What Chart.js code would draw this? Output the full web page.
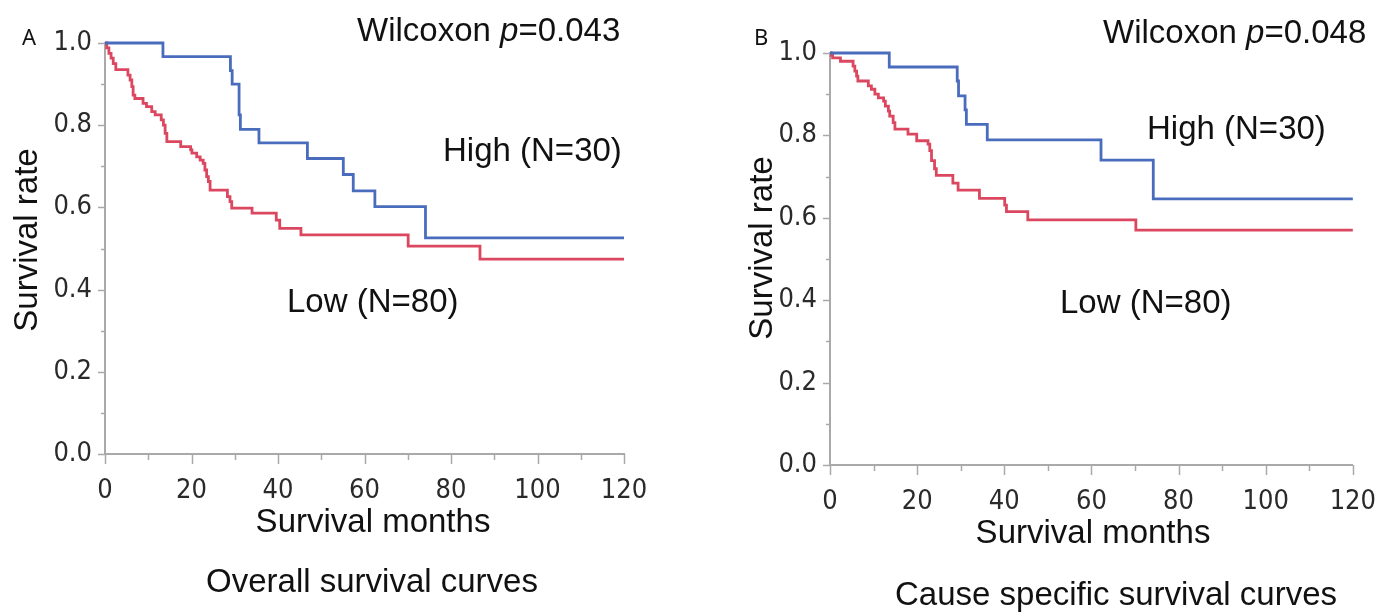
<!DOCTYPE html>
<html>
<head>
<meta charset="utf-8">
<script src="https://cdn.jsdelivr.net/npm/chart.js@4.4.1/dist/chart.umd.min.js"></script>
<style>
  html, body { margin: 0; padding: 0; background: #fff; }
  #wrap { position: relative; width: 1387px; height: 615px; }
  #wrap canvas { position: absolute; left: 0; top: 0; }
</style>
</head>
<body>
<div id="wrap">
  <canvas id="osChart" width="1387" height="615"></canvas>
  <canvas id="cssChart" width="1387" height="615"></canvas>
</div>
<script>
// ---- data (months, survival rate) ----
// A: overall survival
const osHighMonths = [0, 13.4, 29.0, 29.4, 31.0, 31.3, 35.6, 46.8, 55.1, 57.4, 62.4, 74.1, 120];
const osHighRate   = [1.0, 0.967, 0.933, 0.900, 0.825, 0.790, 0.757, 0.719, 0.680, 0.640, 0.602, 0.526, 0.526];
const osLowMonths = [0, 0.4, 0.9, 1.4, 1.9, 2.5, 5.3, 5.8, 6.2, 6.5, 6.9, 8.8, 9.6, 10.8, 11.6, 13.0, 13.5, 13.9, 14.3,
  17.5, 19.8, 20.1, 21.2, 22.0, 22.7, 23.1, 23.5, 23.9, 24.3, 28.3, 28.9, 29.3, 34.0, 39.6, 40.4, 45.3, 70.1, 86.7, 120];
const osLowRate = [1.0, 0.988, 0.975, 0.963, 0.950, 0.935, 0.922, 0.910, 0.894, 0.873, 0.865, 0.853, 0.845, 0.833, 0.825,
  0.813, 0.800, 0.780, 0.760, 0.748, 0.740, 0.732, 0.723, 0.715, 0.707, 0.691, 0.675, 0.663, 0.642, 0.626, 0.614, 0.598,
  0.586, 0.569, 0.549, 0.533, 0.506, 0.474, 0.474];

// B: cause specific survival
const cssHighMonths = [0, 13.6, 29.2, 29.5, 31.0, 31.3, 36.1, 62.2, 74.2, 120];
const cssHighRate   = [1.0, 0.966, 0.932, 0.896, 0.862, 0.827, 0.789, 0.740, 0.646, 0.646];
const cssLowMonths = [0, 0.3, 0.6, 2.4, 5.3, 5.7, 6.1, 6.4, 8.8, 9.5, 10.3, 11.1, 12.3, 12.7, 13.4, 13.7, 14.5, 14.9,
  17.9, 19.9, 22.5, 22.9, 23.3, 24.0, 24.4, 28.2, 29.4, 34.3, 40.1, 40.5, 45.4, 70.2, 120];
const cssLowRate = [1.0, 0.994, 0.988, 0.980, 0.968, 0.956, 0.944, 0.932, 0.920, 0.912, 0.900, 0.891, 0.883, 0.871,
  0.859, 0.847, 0.831, 0.815, 0.803, 0.787, 0.779, 0.763, 0.739, 0.719, 0.703, 0.684, 0.667, 0.647, 0.631, 0.615,
  0.595, 0.570, 0.570];

const xTicks = [0, 20, 40, 60, 80, 100, 120];
const yTicks = [0.0, 0.2, 0.4, 0.6, 0.8, 1.0];

const highLabel = 'High (N=30)';
const lowLabel = 'Low (N=80)';
const xTitle = 'Survival months';
const yTitle = 'Survival rate';

const blue = '#4a6cbd';
const red = '#dc4760';
const axisGray = '#a9a9a9';
const textFont = '"Liberation Sans", Arial, sans-serif';
const tickFont = '"DejaVu Sans Condensed", "DejaVu Sans", sans-serif';

function kmPoints(months, rates) {
  return months.map((m, i) => ({ x: m, y: rates[i] }));
}

// minor/major tick marks on both axes
const tickMarks = {
  id: 'tickMarks',
  afterDraw(chart) {
    const { ctx, chartArea, scales } = chart;
    ctx.save();
    ctx.strokeStyle = axisGray;
    ctx.lineWidth = 1.5;
    for (let v = 0; v <= 120; v += 10) {
      const px = Math.round(scales.x.getPixelForValue(v)) + 0.5;
      const len = v % 20 === 0 ? 10 : 6;
      ctx.beginPath();
      ctx.moveTo(px, chartArea.bottom);
      ctx.lineTo(px, chartArea.bottom + len);
      ctx.stroke();
    }
    for (let k = 0; k <= 10; k++) {
      const py = Math.round(scales.y.getPixelForValue(k / 10)) + 0.5;
      const len = k % 2 === 0 ? 7 : 4;
      ctx.beginPath();
      ctx.moveTo(chartArea.left, py);
      ctx.lineTo(chartArea.left - len, py);
      ctx.stroke();
    }
    ctx.restore();
  }
};

// free text: panel letter, p value, group labels, titles
const panelText = {
  id: 'panelText',
  afterDraw(chart, args, opts) {
    const { ctx } = chart;
    ctx.save();
    ctx.fillStyle = '#111';
    ctx.textBaseline = 'alphabetic';
    (opts.items || []).forEach(item => {
      ctx.save();
      ctx.translate(item.x, item.y);
      if (item.rotate) ctx.rotate(item.rotate);
      let x = 0;
      const parts = item.parts || [{ t: item.text }];
      const fontOf = p => (p.italic ? 'italic ' : '') + (item.size || 33) + 'px ' + (item.family || textFont);
      if (item.align === 'center') {
        let w = 0;
        parts.forEach(p => { ctx.font = fontOf(p); w += ctx.measureText(p.t).width; });
        x = -w / 2;
      }
      parts.forEach(p => {
        ctx.font = fontOf(p);
        ctx.fillText(p.t, x, 0);
        x += ctx.measureText(p.t).width;
      });
      ctx.restore();
    });
    ctx.restore();
  }
};

function makeChart(id, box, high, low, items) {
  const W = 1387, H = 615;
  new Chart(document.getElementById(id), {
    type: 'scatter',
    data: {
      datasets: [
        { label: 'High', data: high, showLine: true, stepped: true, borderColor: blue, borderWidth: 2.8,
          pointRadius: 0, clip: false },
        { label: 'Low', data: low, showLine: true, stepped: true, borderColor: red, borderWidth: 2.8,
          pointRadius: 0, clip: false }
      ]
    },
    options: {
      responsive: false,
      animation: false,
      devicePixelRatio: 1,
      layout: { padding: { left: box.left - 105, right: W - box.right, top: box.top, bottom: 0 } },
      plugins: {
        legend: { display: false },
        tooltip: { enabled: false },
        panelText: { items: items }
      },
      scales: {
        x: {
          type: 'linear', min: 0, max: 120,
          afterBuildTicks: s => { s.ticks = xTicks.map(v => ({ value: v })); },
          ticks: { color: '#2a2a2a', font: { family: tickFont, size: 27 }, padding: 11, maxRotation: 0, autoSkip: false },
          grid: { drawOnChartArea: false, drawTicks: true, tickLength: 10, color: 'rgba(0,0,0,0)' },
          border: { display: true, color: axisGray, width: 2 },
          afterFit: s => { s.height = H - box.bottom; }
        },
        y: {
          min: 0, max: 1,
          afterBuildTicks: s => { s.ticks = yTicks.map(v => ({ value: v })); },
          ticks: { color: '#2a2a2a', font: { family: tickFont, size: 27 }, padding: 6,
            callback: v => Number(v).toFixed(1) },
          grid: { drawOnChartArea: false, drawTicks: true, tickLength: 7, color: 'rgba(0,0,0,0)' },
          border: { display: true, color: axisGray, width: 2 },
          afterFit: s => { s.width = 105; }
        }
      }
    },
    plugins: [tickMarks, panelText]
  });
}

makeChart('osChart', { left: 105, right: 624, top: 43, bottom: 454 },
  kmPoints(osHighMonths, osHighRate), kmPoints(osLowMonths, osLowRate), [
    { text: 'A', x: 22, y: 45, size: 22, family: '"Noto Sans", sans-serif' },
    { parts: [{ t: 'Wilcoxon ' }, { t: 'p', italic: true }, { t: '=0.043' }], x: 357, y: 41 },
    { text: highLabel, x: 443, y: 161 },
    { text: lowLabel, x: 287, y: 312 },
    { text: xTitle, x: 373, y: 532, align: 'center' },
    { text: 'Overall survival curves', x: 372, y: 592, align: 'center' },
    { text: yTitle, x: 37, y: 240, align: 'center', rotate: -Math.PI / 2 }
  ]);

makeChart('cssChart', { left: 830, right: 1354, top: 53, bottom: 465 },
  kmPoints(cssHighMonths, cssHighRate), kmPoints(cssLowMonths, cssLowRate), [
    { text: 'B', x: 754, y: 45, size: 22, family: '"Noto Sans", sans-serif' },
    { parts: [{ t: 'Wilcoxon ' }, { t: 'p', italic: true }, { t: '=0.048' }], x: 1103, y: 43 },
    { text: highLabel, x: 1147, y: 139 },
    { text: lowLabel, x: 1060, y: 313 },
    { text: xTitle, x: 1093, y: 543, align: 'center' },
    { text: 'Cause specific survival curves', x: 1116, y: 605, align: 'center' },
    { text: yTitle, x: 772, y: 248, align: 'center', rotate: -Math.PI / 2 }
  ]);
</script>
</body>
</html>
